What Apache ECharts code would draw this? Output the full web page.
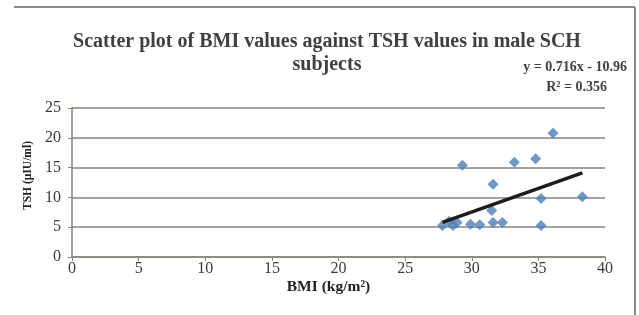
<!DOCTYPE html>
<html>
<head>
<meta charset="utf-8">
<script src="https://cdn.jsdelivr.net/npm/echarts@6/dist/echarts.min.js"></script>
<style>
  html, body { margin: 0; padding: 0; background: #fff; }
  #chart { width: 639px; height: 315px; }
</style>
</head>
<body>
<div id="chart"></div>
<script>
// BMI (x) and TSH (y) of the male SCH subjects
var bmi = [27.8, 28.3, 28.6, 28.9, 29.9, 30.6, 31.6, 32.3, 35.2, 31.5, 31.6, 35.2, 38.3, 29.3, 33.2, 34.8, 36.1];
var tsh = [5.3, 6.0, 5.3, 5.8, 5.5, 5.4, 5.8, 5.8, 5.3, 7.8, 12.2, 9.8, 10.1, 15.4, 15.9, 16.5, 20.8];

// linear trendline ends as drawn
var trendBmi = [27.8, 38.3];
var trendTsh = [5.8, 14.1];

var xTicks = [0, 5, 10, 15, 20, 25, 30, 35, 40];
var yTicks = [0, 5, 10, 15, 20, 25];

var serif = '"Liberation Serif", "DejaVu Serif", serif';
var gridColor = '#86857a';

var points = bmi.map(function(b, i) { return [b, tsh[i]]; });
var trend = trendBmi.map(function(b, i) { return [b, trendTsh[i]]; });

var chart = echarts.init(document.getElementById('chart'));
var option = {
  backgroundColor: '#fff',
  animation: false,
  title: {
    text: 'Scatter plot of BMI values against TSH values in male SCH\nsubjects',
    left: 322,
    top: 25,
    textAlign: 'center',
    textStyle: {
      fontFamily: serif,
      fontSize: 20,
      fontWeight: 'bold',
      color: '#404040',
      lineHeight: 23
    }
  },
  grid: {
    left: 72,
    right: 34,
    top: 108,
    bottom: 58
  },
  xAxis: {
    type: 'value',
    min: xTicks[0],
    max: xTicks[xTicks.length - 1],
    interval: 5,
    name: 'BMI (kg/m²)',
    nameLocation: 'middle',
    nameGap: 22,
    nameTextStyle: {
      fontFamily: serif,
      fontSize: 15.5,
      fontWeight: 'bold',
      color: '#222',
      padding: [0, 20, 0, 0]
    },
    axisLine: { show: true, lineStyle: { color: gridColor, width: 1.5 } },
    axisTick: { show: true, inside: false, length: 4, lineStyle: { color: gridColor } },
    axisLabel: { fontFamily: serif, fontSize: 16, color: '#3a3a3a', margin: 4 },
    splitLine: { show: false }
  },
  yAxis: {
    type: 'value',
    min: yTicks[0],
    max: yTicks[yTicks.length - 1],
    interval: 5,
    name: 'TSH (µIU/ml)',
    nameLocation: 'middle',
    nameGap: 38,
    nameTextStyle: {
      fontFamily: serif,
      fontSize: 11.5,
      fontWeight: 'bold',
      color: '#222',
      padding: [0, 0, 0, 14]
    },
    axisLine: { show: true, lineStyle: { color: '#8a7f76', width: 1.5 } },
    axisTick: { show: true, inside: false, length: 4, lineStyle: { color: gridColor } },
    axisLabel: { fontFamily: serif, fontSize: 16, color: '#3a3a3a', margin: 11 },
    splitLine: { show: true, lineStyle: { color: gridColor, width: 1.5 } }
  },
  graphic: [
    {
      type: 'line',
      shape: { x1: 14, y1: 7, x2: 635, y2: 7 },
      style: { stroke: '#8a8a8a', lineWidth: 2 }
    },
    {
      type: 'line',
      shape: { x1: 635, y1: 7, x2: 635, y2: 315 },
      style: { stroke: '#8a8a8a', lineWidth: 2 }
    },
    {
      type: 'text',
      right: 12,
      top: 60,
      style: {
        text: 'y = 0.716x - 10.96',
        fontFamily: serif,
        fontSize: 14,
        fontWeight: 'bold',
        fill: '#404040'
      }
    },
    {
      type: 'text',
      right: 32,
      top: 80,
      style: {
        text: 'R² = 0.356',
        fontFamily: serif,
        fontSize: 14,
        fontWeight: 'bold',
        fill: '#404040'
      }
    }
  ],
  series: [
    {
      name: 'TSH',
      type: 'scatter',
      symbol: 'diamond',
      symbolSize: 11,
      data: points,
      itemStyle: { color: '#4a7ebb' },
      z: 3
    },
    {
      name: 'Linear (TSH)',
      type: 'line',
      data: trend,
      symbol: 'none',
      lineStyle: { color: '#1c1c1c', width: 3.5 },
      z: 4
    }
  ]
};

chart.setOption(option);
</script>
</body>
</html>
